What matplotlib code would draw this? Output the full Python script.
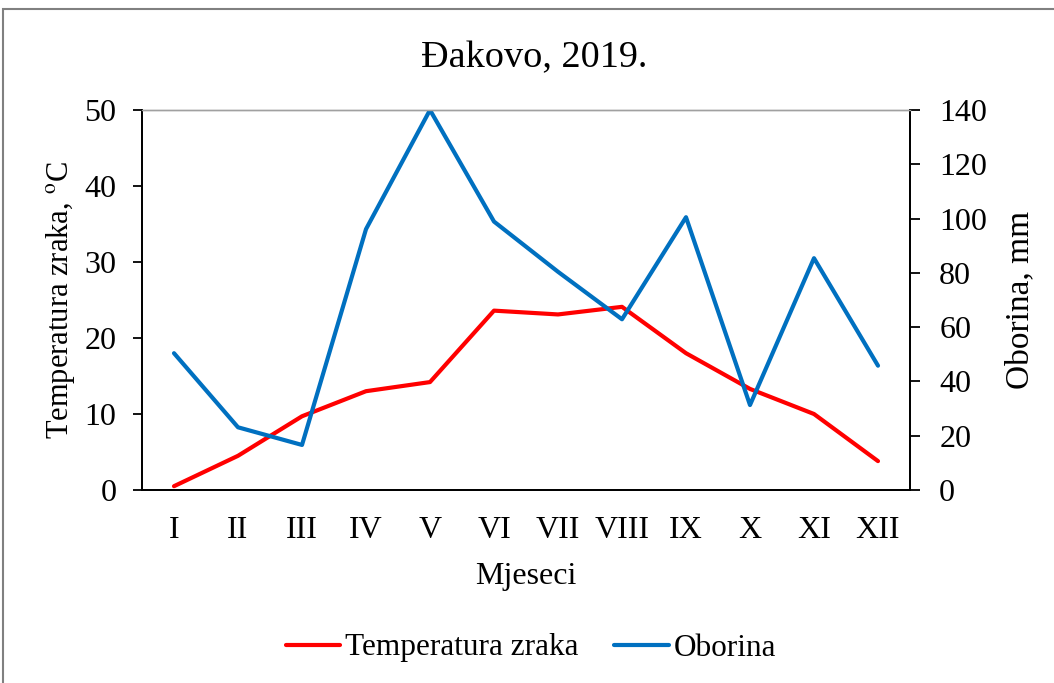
import matplotlib.pyplot as plt
from matplotlib.patches import Rectangle

plt.rcParams['font.family'] = ['Liberation Serif', 'DejaVu Serif']
plt.rcParams['mathtext.fontset'] = 'stix'

months = ["I", "II", "III", "IV", "V", "VI", "VII", "VIII", "IX", "X", "XI", "XII"]
temperatura = [0.5, 4.5, 9.7, 13.0, 14.2, 23.6, 23.1, 24.1, 18.0, 13.3, 10.0, 3.8]
oborina = [50.4, 23.1, 16.6, 96.1, 140.0, 98.9, 80.4, 62.9, 100.5, 31.3, 85.4, 45.8]

fig = plt.figure(figsize=(10.54, 6.83), dpi=100)
ax = fig.add_axes([142 / 1054, 1 - 490 / 683, 768 / 1054, 380 / 683])
ax2 = ax.twinx()

x = list(range(len(months)))
l1, = ax.plot(x, temperatura, color="#FF0000", lw=3, solid_capstyle="round", label="Temperatura zraka")
l2, = ax2.plot(x, oborina, color="#0070C0", lw=3, solid_capstyle="round", label="Oborina")

ax.set_xlim(-0.5, 11.5)
ax.set_ylim(0, 50)
ax2.set_ylim(0, 140)
ax.set_yticks(range(0, 51, 10))
ax2.set_yticks(range(0, 141, 20))
ax.set_xticks(x)
ax.set_xticklabels(months)

ax.tick_params(axis="x", length=0, labelsize=23, pad=19)
ax.tick_params(axis="y", length=6.5, width=1.3, labelsize=23, pad=12, direction="out")
ax2.tick_params(axis="y", length=7, width=1.3, labelsize=23, pad=14, direction="out")

for a in (ax, ax2):
    a.spines["top"].set_color("#A0A0A0")
    a.spines["top"].set_linewidth(1)
    for s in ("left", "right", "bottom"):
        a.spines[s].set_linewidth(1.3)

ax.set_xlabel("Mjeseci", fontsize=23, labelpad=12)
ax.set_ylabel(r"Temperatura zraka, $^{\mathrm{o}}$C", fontsize=22, labelpad=5)
ax2.set_ylabel("Oborina, mm", fontsize=24, labelpad=13)
fig.text(534 / 1054, 1 - 67 / 683, "Đakovo, 2019.", ha="center", va="baseline", fontsize=27.5)

fig.legend(handles=[l1, l2], loc="center", bbox_to_anchor=(531 / 1054, 1 - 648 / 683),
           ncol=2, frameon=False, fontsize=22.5, handlelength=1.75, columnspacing=1.15,
           handletextpad=0.15)

fig.patches.append(Rectangle((3 / 1054, -0.1), 1.2, 1 - 9 / 683 + 0.1, transform=fig.transFigure,
                             fill=False, edgecolor="#808080", lw=1.5))

fig.savefig("out.png", dpi=100)
